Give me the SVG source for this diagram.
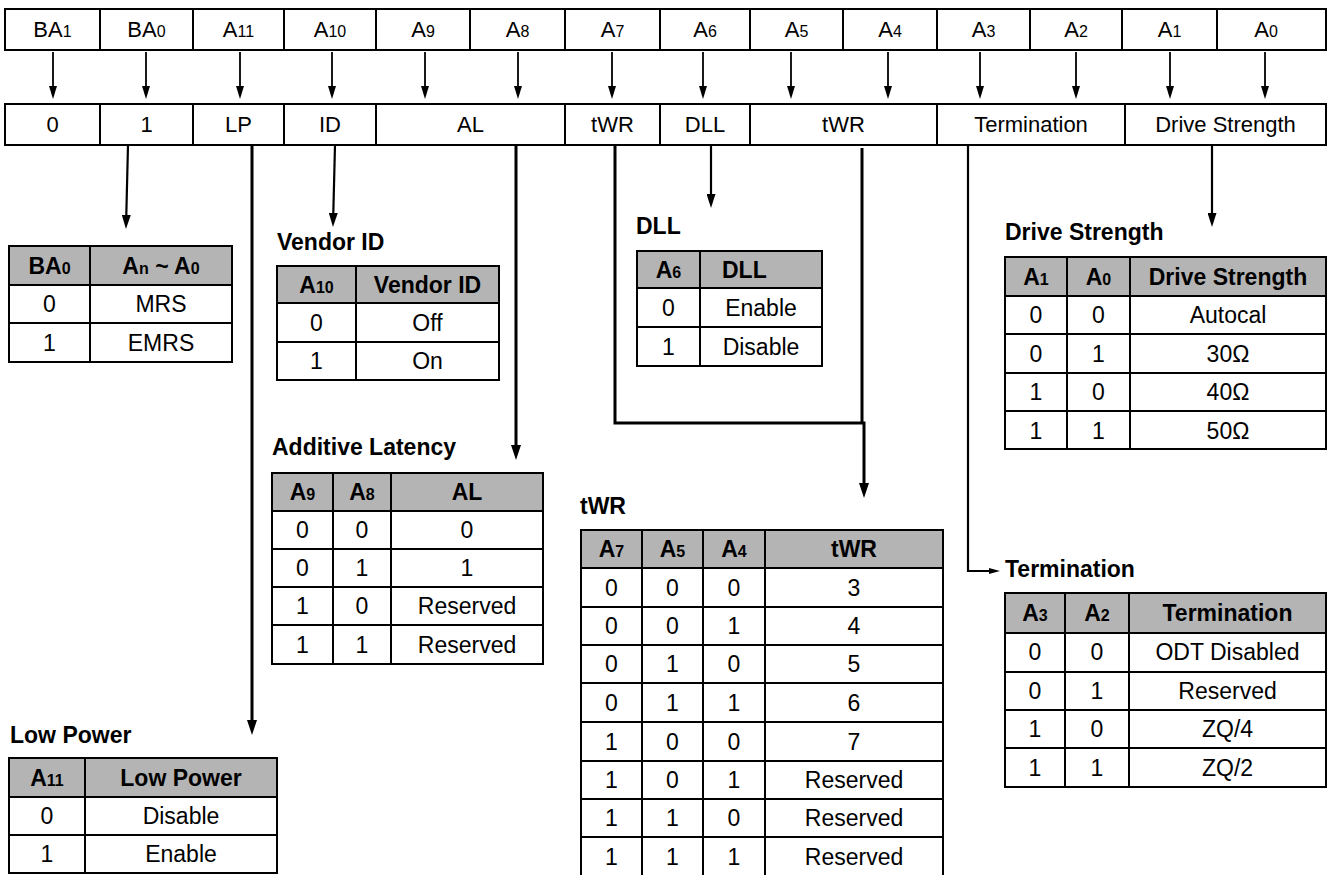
<svg xmlns="http://www.w3.org/2000/svg" width="1331" height="875" viewBox="0 0 1331 875">
<style>
.cell{fill:#fff;stroke:#000;stroke-width:2}
.hdr{fill:#b4b4b4;stroke:#000;stroke-width:2}
.ln{stroke:#000;stroke-width:2;fill:none}
text{font-family:"Liberation Sans",Arial,Helvetica,sans-serif;fill:#000}
.r{font-size:22px;text-anchor:middle}
.t{font-size:23px;text-anchor:middle}
.h{font-size:23px;text-anchor:middle;font-weight:bold}
.ttl{font-size:23px;font-weight:bold}
.s{font-size:16px}
.c1{stroke:#000;stroke-width:1.8;fill:none}
.c2{stroke:#000;stroke-width:2.2;fill:none}
.c3{stroke:#000;stroke-width:3;fill:none}
</style>
<defs>
<marker id="as" markerUnits="userSpaceOnUse" markerWidth="13" markerHeight="8" refX="0" refY="4" orient="auto"><path d="M0,0 L13,4 L0,8 z" fill="#000"/></marker>
<marker id="am" markerUnits="userSpaceOnUse" markerWidth="14" markerHeight="9" refX="0" refY="4.5" orient="auto"><path d="M0,0 L14,4.5 L0,9 z" fill="#000"/></marker>
<marker id="al" markerUnits="userSpaceOnUse" markerWidth="15" markerHeight="10" refX="0" refY="5" orient="auto"><path d="M0,0 L15,5 L0,10 z" fill="#000"/></marker>
<marker id="at" markerUnits="userSpaceOnUse" markerWidth="11" markerHeight="6" refX="0" refY="3" orient="auto"><path d="M0,0 L11,3 L0,6 z" fill="#000"/></marker>
</defs>

<g id="address-row">
<rect class="cell" x="5" y="9" width="1321" height="41"/>
<path class="ln" d="M100,9V50M193,9V50M284,9V50M376,9V50M470,9V50M565,9V50M660,9V50M750,9V50M843,9V50M937,9V50M1030,9V50M1122,9V50M1217,9V50"/>
<text class="r" x="52.5" y="37">BA<tspan class="s">1</tspan></text>
<text class="r" x="146.5" y="37">BA<tspan class="s">0</tspan></text>
<text class="r" x="238.5" y="37">A<tspan class="s">11</tspan></text>
<text class="r" x="330" y="37">A<tspan class="s">10</tspan></text>
<text class="r" x="423" y="37">A<tspan class="s">9</tspan></text>
<text class="r" x="517.5" y="37">A<tspan class="s">8</tspan></text>
<text class="r" x="612.5" y="37">A<tspan class="s">7</tspan></text>
<text class="r" x="705" y="37">A<tspan class="s">6</tspan></text>
<text class="r" x="796.5" y="37">A<tspan class="s">5</tspan></text>
<text class="r" x="890" y="37">A<tspan class="s">4</tspan></text>
<text class="r" x="983.5" y="37">A<tspan class="s">3</tspan></text>
<text class="r" x="1076" y="37">A<tspan class="s">2</tspan></text>
<text class="r" x="1169.5" y="37">A<tspan class="s">1</tspan></text>
<text class="r" x="1266" y="37">A<tspan class="s">0</tspan></text>
</g>

<g id="field-row">
<rect class="cell" x="5" y="104" width="1321" height="41"/>
<path class="ln" d="M100,104V145M193,104V145M284,104V145M376,104V145M565,104V145M660,104V145M750,104V145M937,104V145M1125,104V145"/>
<text class="r" x="52.5" y="132">0</text>
<text class="r" x="146.5" y="132">1</text>
<text class="r" x="238.5" y="132">LP</text>
<text class="r" x="330" y="132">ID</text>
<text class="r" x="470.5" y="132">AL</text>
<text class="r" x="612.5" y="132">tWR</text>
<text class="r" x="705" y="132">DLL</text>
<text class="r" x="843.5" y="132">tWR</text>
<text class="r" x="1031" y="132">Termination</text>
<text class="r" x="1225.5" y="132">Drive Strength</text>
</g>

<g id="connectors">
<path class="c1" marker-end="url(#as)" d="M53,52V86"/>
<path class="c1" marker-end="url(#as)" d="M146,52V86"/>
<path class="c1" marker-end="url(#as)" d="M240,52V86"/>
<path class="c1" marker-end="url(#as)" d="M332,52V86"/>
<path class="c1" marker-end="url(#as)" d="M425,52V86"/>
<path class="c1" marker-end="url(#as)" d="M518,52V86"/>
<path class="c1" marker-end="url(#as)" d="M612,52V86"/>
<path class="c1" marker-end="url(#as)" d="M703,52V86"/>
<path class="c1" marker-end="url(#as)" d="M791,52V86"/>
<path class="c1" marker-end="url(#as)" d="M888,52V86"/>
<path class="c1" marker-end="url(#as)" d="M980,52V86"/>
<path class="c1" marker-end="url(#as)" d="M1076,52V86"/>
<path class="c1" marker-end="url(#as)" d="M1170,52V86"/>
<path class="c1" marker-end="url(#as)" d="M1265,52V86"/>
<path class="c2" marker-end="url(#am)" d="M128,145L126.3,215"/>
<path class="c2" marker-end="url(#am)" d="M335,145L333.3,213"/>
<path class="c2" marker-end="url(#am)" d="M711,145V194"/>
<path class="c2" marker-end="url(#am)" d="M1212,145V213"/>
<path class="c3" marker-end="url(#al)" d="M252,145V720"/>
<path class="c3" marker-end="url(#al)" d="M516,145V445"/>
<path class="c3" d="M862,148V423"/>
<path class="c3" marker-end="url(#al)" d="M615,145V423H864V483"/>
<path class="c2" marker-end="url(#at)" d="M968,145V571H989"/>
</g>

<g id="table-ba0">
<rect class="hdr" x="9" y="246" width="223" height="39"/>
<rect class="cell" x="9" y="285" width="223" height="77"/>
<path class="ln" d="M9,323H232M90,246V362"/>
<text class="h" x="49.5" y="274">BA<tspan class="s">0</tspan></text>
<text class="h" x="161" y="274">A<tspan class="s">n</tspan> ~ A<tspan class="s">0</tspan></text>
<text class="t" x="49.5" y="312">0</text><text class="t" x="161" y="312">MRS</text>
<text class="t" x="49.5" y="351">1</text><text class="t" x="161" y="351">EMRS</text>
</g>

<g id="table-vendor-id">
<text class="ttl" x="277" y="250">Vendor ID</text>
<rect class="hdr" x="277" y="266" width="222" height="37"/>
<rect class="cell" x="277" y="303" width="222" height="77"/>
<path class="ln" d="M277,342H499M356,266V380"/>
<text class="h" x="316.5" y="293">A<tspan class="s">10</tspan></text>
<text class="h" x="427.5" y="293">Vendor ID</text>
<text class="t" x="316.5" y="331">0</text><text class="t" x="427.5" y="331">Off</text>
<text class="t" x="316.5" y="369">1</text><text class="t" x="427.5" y="369">On</text>
</g>

<g id="table-dll">
<text class="ttl" x="636" y="234">DLL</text>
<rect class="hdr" x="637" y="251" width="185" height="37"/>
<rect class="cell" x="637" y="288" width="185" height="78"/>
<path class="ln" d="M637,327H822M700,251V366"/>
<text class="h" x="668.5" y="278">A<tspan class="s">6</tspan></text>
<text class="ttl" x="722" y="278">DLL</text>
<text class="t" x="761" y="316">Enable</text><text class="t" x="668.5" y="316">0</text>
<text class="t" x="761" y="355">Disable</text><text class="t" x="668.5" y="355">1</text>
</g>

<g id="table-drive-strength">
<text class="ttl" x="1005" y="240">Drive Strength</text>
<rect class="hdr" x="1005" y="257" width="321" height="39"/>
<rect class="cell" x="1005" y="296" width="321" height="153"/>
<path class="ln" d="M1005,334H1326M1005,373H1326M1005,411H1326M1067,257V449M1130,257V449"/>
<text class="h" x="1036" y="285">A<tspan class="s">1</tspan></text>
<text class="h" x="1098.5" y="285">A<tspan class="s">0</tspan></text>
<text class="h" x="1228" y="285">Drive Strength</text>
<text class="t" x="1036" y="323">0</text><text class="t" x="1098.5" y="323">0</text><text class="t" x="1228" y="323">Autocal</text>
<text class="t" x="1036" y="362">0</text><text class="t" x="1098.5" y="362">1</text><text class="t" x="1228" y="362">30Ω</text>
<text class="t" x="1036" y="400">1</text><text class="t" x="1098.5" y="400">0</text><text class="t" x="1228" y="400">40Ω</text>
<text class="t" x="1036" y="439">1</text><text class="t" x="1098.5" y="439">1</text><text class="t" x="1228" y="439">50Ω</text>
</g>

<g id="table-additive-latency">
<text class="ttl" x="272" y="455">Additive Latency</text>
<rect class="hdr" x="272" y="473" width="271" height="38"/>
<rect class="cell" x="272" y="511" width="271" height="153"/>
<path class="ln" d="M272,549H543M272,587H543M272,625H543M333,473V664M391,473V664"/>
<text class="h" x="302.5" y="500">A<tspan class="s">9</tspan></text>
<text class="h" x="362" y="500">A<tspan class="s">8</tspan></text>
<text class="h" x="467" y="500">AL</text>
<text class="t" x="302.5" y="538">0</text><text class="t" x="362" y="538">0</text><text class="t" x="467" y="538">0</text>
<text class="t" x="302.5" y="576">0</text><text class="t" x="362" y="576">1</text><text class="t" x="467" y="576">1</text>
<text class="t" x="302.5" y="614">1</text><text class="t" x="362" y="614">0</text><text class="t" x="467" y="614">Reserved</text>
<text class="t" x="302.5" y="653">1</text><text class="t" x="362" y="653">1</text><text class="t" x="467" y="653">Reserved</text>
</g>

<g id="table-twr">
<text class="ttl" x="580" y="514">tWR</text>
<rect class="hdr" x="581" y="530" width="362" height="38"/>
<rect class="cell" x="581" y="568" width="362" height="310"/>
<path class="ln" d="M581,607H943M581,645H943M581,683H943M581,722H943M581,761H943M581,799H943M581,837H943M642,530V878M703,530V878M765,530V878"/>
<text class="h" x="611.5" y="557">A<tspan class="s">7</tspan></text>
<text class="h" x="672.5" y="557">A<tspan class="s">5</tspan></text>
<text class="h" x="734" y="557">A<tspan class="s">4</tspan></text>
<text class="h" x="854" y="557">tWR</text>
<text class="t" x="611.5" y="596">0</text><text class="t" x="672.5" y="596">0</text><text class="t" x="734" y="596">0</text><text class="t" x="854" y="596">3</text>
<text class="t" x="611.5" y="634">0</text><text class="t" x="672.5" y="634">0</text><text class="t" x="734" y="634">1</text><text class="t" x="854" y="634">4</text>
<text class="t" x="611.5" y="672">0</text><text class="t" x="672.5" y="672">1</text><text class="t" x="734" y="672">0</text><text class="t" x="854" y="672">5</text>
<text class="t" x="611.5" y="711">0</text><text class="t" x="672.5" y="711">1</text><text class="t" x="734" y="711">1</text><text class="t" x="854" y="711">6</text>
<text class="t" x="611.5" y="750">1</text><text class="t" x="672.5" y="750">0</text><text class="t" x="734" y="750">0</text><text class="t" x="854" y="750">7</text>
<text class="t" x="611.5" y="788">1</text><text class="t" x="672.5" y="788">0</text><text class="t" x="734" y="788">1</text><text class="t" x="854" y="788">Reserved</text>
<text class="t" x="611.5" y="826">1</text><text class="t" x="672.5" y="826">1</text><text class="t" x="734" y="826">0</text><text class="t" x="854" y="826">Reserved</text>
<text class="t" x="611.5" y="865">1</text><text class="t" x="672.5" y="865">1</text><text class="t" x="734" y="865">1</text><text class="t" x="854" y="865">Reserved</text>
</g>

<g id="table-low-power">
<text class="ttl" x="10" y="743">Low Power</text>
<rect class="hdr" x="9" y="758" width="268" height="39"/>
<rect class="cell" x="9" y="797" width="268" height="76"/>
<path class="ln" d="M9,835H277M85,758V873"/>
<text class="h" x="47" y="786">A<tspan class="s">11</tspan></text>
<text class="h" x="181" y="786">Low Power</text>
<text class="t" x="47" y="824">0</text><text class="t" x="181" y="824">Disable</text>
<text class="t" x="47" y="862">1</text><text class="t" x="181" y="862">Enable</text>
</g>

<g id="table-termination">
<text class="ttl" x="1005" y="577">Termination</text>
<rect class="hdr" x="1005" y="593" width="321" height="40"/>
<rect class="cell" x="1005" y="633" width="321" height="154"/>
<path class="ln" d="M1005,672H1326M1005,710H1326M1005,748H1326M1065,593V787M1129,593V787"/>
<text class="h" x="1035" y="621">A<tspan class="s">3</tspan></text>
<text class="h" x="1097" y="621">A<tspan class="s">2</tspan></text>
<text class="h" x="1227.5" y="621">Termination</text>
<text class="t" x="1035" y="660">0</text><text class="t" x="1097" y="660">0</text><text class="t" x="1227.5" y="660">ODT Disabled</text>
<text class="t" x="1035" y="699">0</text><text class="t" x="1097" y="699">1</text><text class="t" x="1227.5" y="699">Reserved</text>
<text class="t" x="1035" y="737">1</text><text class="t" x="1097" y="737">0</text><text class="t" x="1227.5" y="737">ZQ/4</text>
<text class="t" x="1035" y="776">1</text><text class="t" x="1097" y="776">1</text><text class="t" x="1227.5" y="776">ZQ/2</text>
</g>
</svg>
